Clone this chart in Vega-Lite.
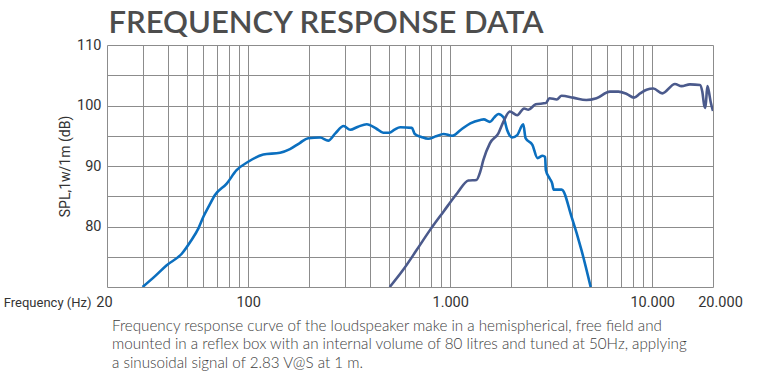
{
  "$schema": "https://vega.github.io/schema/vega-lite/v6.json",
  "width": 606,
  "height": 242,
  "autosize": {"type": "none"},
  "padding": {"left": 107, "top": 45, "right": 49, "bottom": 90},
  "background": "white",
  "title": {
    "text": [
      "Frequency response curve of the loudspeaker make in a hemispherical, free field and",
      "mounted in a reflex box with an internal volume of 80 litres and tuned at 50Hz, applying",
      "a sinusoidal signal of 2.83 V@S at 1 m."
    ],
    "orient": "bottom",
    "anchor": "start",
    "frame": "group",
    "dx": 5,
    "font": "Lato",
    "fontSize": 15.2,
    "fontWeight": 300,
    "lineHeight": 18.3,
    "color": "#3d3d3d",
    "baseline": "top",
    "offset": 10
  },
  "config": {"view": {"stroke": null}},
  "datasets": {
    "woofer": [
      {"f": 30, "db": 70},
      {"f": 34.6, "db": 71.8},
      {"f": 39.5, "db": 73.6},
      {"f": 46.9, "db": 75.5},
      {"f": 52, "db": 77.6},
      {"f": 56.7, "db": 79.7},
      {"f": 60, "db": 81.6},
      {"f": 64, "db": 83.4},
      {"f": 68.5, "db": 85.2},
      {"f": 78.3, "db": 87.1},
      {"f": 87.6, "db": 89.3},
      {"f": 100, "db": 90.7},
      {"f": 118.8, "db": 91.9},
      {"f": 143.8, "db": 92.2},
      {"f": 161, "db": 92.8},
      {"f": 180, "db": 93.8},
      {"f": 198, "db": 94.6},
      {"f": 227, "db": 94.7},
      {"f": 249, "db": 94.2},
      {"f": 270, "db": 95.4},
      {"f": 297, "db": 96.6},
      {"f": 320, "db": 96.0},
      {"f": 350, "db": 96.5},
      {"f": 386, "db": 96.9},
      {"f": 430, "db": 96.2},
      {"f": 466, "db": 95.5},
      {"f": 500, "db": 95.5},
      {"f": 530, "db": 96.0},
      {"f": 566, "db": 96.4},
      {"f": 646, "db": 96.3},
      {"f": 668, "db": 95.3},
      {"f": 720, "db": 94.8},
      {"f": 778, "db": 94.5},
      {"f": 850, "db": 94.9},
      {"f": 926, "db": 95.3},
      {"f": 1022, "db": 95.0},
      {"f": 1130, "db": 96.0},
      {"f": 1258, "db": 97.05},
      {"f": 1410, "db": 97.6},
      {"f": 1466, "db": 97.7},
      {"f": 1572, "db": 97.3},
      {"f": 1650, "db": 98.0},
      {"f": 1732, "db": 98.6},
      {"f": 1836, "db": 98.05},
      {"f": 1912, "db": 96.0},
      {"f": 2026, "db": 94.7},
      {"f": 2146, "db": 95.1},
      {"f": 2300, "db": 96.9},
      {"f": 2362, "db": 94.6},
      {"f": 2552, "db": 93.5},
      {"f": 2706, "db": 91.3},
      {"f": 2866, "db": 91.7},
      {"f": 2950, "db": 91.5},
      {"f": 2976, "db": 89.3},
      {"f": 3100, "db": 88.0},
      {"f": 3200, "db": 87.1},
      {"f": 3250, "db": 86.1},
      {"f": 3560, "db": 86.1},
      {"f": 3990, "db": 81.6},
      {"f": 4466, "db": 76.1},
      {"f": 4960, "db": 70}
    ],
    "tweeter": [
      {"f": 502, "db": 70},
      {"f": 584, "db": 72.8},
      {"f": 682, "db": 76.1},
      {"f": 794, "db": 79.4},
      {"f": 926, "db": 82.45},
      {"f": 1083, "db": 85.5},
      {"f": 1231, "db": 87.6},
      {"f": 1349, "db": 87.7},
      {"f": 1410, "db": 89.1},
      {"f": 1460, "db": 91.0},
      {"f": 1572, "db": 93.75},
      {"f": 1732, "db": 95.4},
      {"f": 1850, "db": 97.6},
      {"f": 1975, "db": 99.0},
      {"f": 2146, "db": 98.4},
      {"f": 2322, "db": 99.5},
      {"f": 2438, "db": 99.3},
      {"f": 2650, "db": 100.2},
      {"f": 2977, "db": 100.4},
      {"f": 3100, "db": 101.2},
      {"f": 3370, "db": 101.0},
      {"f": 3560, "db": 101.6},
      {"f": 4060, "db": 101.3},
      {"f": 4720, "db": 100.9},
      {"f": 5300, "db": 101.2},
      {"f": 6180, "db": 102.3},
      {"f": 6800, "db": 102.3},
      {"f": 7480, "db": 101.9},
      {"f": 8130, "db": 101.3},
      {"f": 8720, "db": 102.0},
      {"f": 9380, "db": 102.6},
      {"f": 10140, "db": 102.8},
      {"f": 11220, "db": 102.0},
      {"f": 12960, "db": 103.55},
      {"f": 13980, "db": 103.2},
      {"f": 15370, "db": 103.5},
      {"f": 17230, "db": 103.4},
      {"f": 17700, "db": 102.3},
      {"f": 18100, "db": 100.0},
      {"f": 18350, "db": 99.6},
      {"f": 18750, "db": 103.2},
      {"f": 19000, "db": 102.6},
      {"f": 19500, "db": 100.5},
      {"f": 20000, "db": 99.1}
    ]
  },
  "encoding": {
    "y": {
      "field": "db",
      "type": "quantitative",
      "scale": {"domain": [70, 110], "nice": false, "zero": false},
      "axis": {
        "values": [70, 75, 80, 85, 90, 95, 100, 105, 110],
        "grid": true,
        "gridColor": "#8c8c8c",
        "gridWidth": 1,
        "gridOpacity": 1,
        "domain": false,
        "ticks": false,
        "labelExpr": "(datum.value % 10 == 0 && datum.value > 70) ? datum.label : ''",
        "labelFont": "Roboto",
        "labelFontSize": 14.5,
        "labelColor": "#333333",
        "labelPadding": 6,
        "labelOverlap": false,
        "labelFlush": false,
        "title": "SPL,1w/1m (dB)",
        "titleFont": "Roboto",
        "titleFontSize": 14,
        "titleFontWeight": "normal",
        "titleColor": "#333333",
        "titlePadding": 4
      }
    }
  },
  "layer": [
    {
      "data": {"name": "woofer"},
      "mark": {"type": "line", "strokeWidth": 2.6, "interpolate": "monotone", "clip": true, "color": "#0b6fbf"},
      "encoding": {
        "x": {
          "field": "f",
          "type": "quantitative",
          "scale": {"type": "log", "domain": [20, 20000], "nice": false},
          "axis": {
            "orient": "bottom",
            "values": [20, 30, 40, 50, 60, 70, 80, 90, 100, 200, 300, 400, 500, 600, 700, 800, 900, 1000, 2000, 3000, 4000, 5000, 6000, 7000, 8000, 9000, 10000, 20000],
            "grid": true,
            "gridColor": "#8c8c8c",
            "gridWidth": 1,
            "gridOpacity": 1,
            "domain": false,
            "ticks": false,
            "labelExpr": "datum.value == 20 ? '20' : datum.value == 100 ? '100' : datum.value == 1000 ? '1.000' : datum.value == 10000 ? '10.000' : datum.value == 20000 ? '20.000' : ''",
            "labelOffset": {"condition": [{"test": "datum.value == 20", "value": -3}, {"test": "datum.value == 20000", "value": 7}], "value": 0},
            "labelFont": "Roboto",
            "labelFontSize": 14.5,
            "labelColor": "#333333",
            "labelPadding": 8,
            "labelOverlap": false,
            "labelFlush": false,
            "labelBound": false,
            "title": "Frequency (Hz)",
            "titleX": -16,
            "titleY": 19,
            "titleAlign": "right",
            "titleAnchor": "end",
            "titleBaseline": "alphabetic",
            "titleFont": "Roboto",
            "titleFontSize": 13,
            "titleFontWeight": "normal",
            "titleColor": "#333333"
          }
        }
      }
    },
    {
      "data": {"name": "tweeter"},
      "mark": {"type": "line", "strokeWidth": 2.6, "interpolate": "monotone", "clip": true, "color": "#4b5a8c"},
      "encoding": {
        "x": {
          "field": "f",
          "type": "quantitative",
          "scale": {"type": "log", "domain": [20, 20000], "nice": false},
          "axis": {
            "orient": "top",
            "grid": false,
            "domain": false,
            "ticks": false,
            "labels": false,
            "title": "FREQUENCY RESPONSE DATA",
            "titleX": 1,
            "titleY": -13,
            "titleAlign": "left",
            "titleAnchor": "start",
            "titleBaseline": "alphabetic",
            "titleFont": "Lato",
            "titleFontSize": 31,
            "titleFontWeight": 600,
            "titleColor": "#4d4d4d"
          }
        }
      }
    }
  ],
  "resolve": {"axis": {"x": "independent"}}
}
